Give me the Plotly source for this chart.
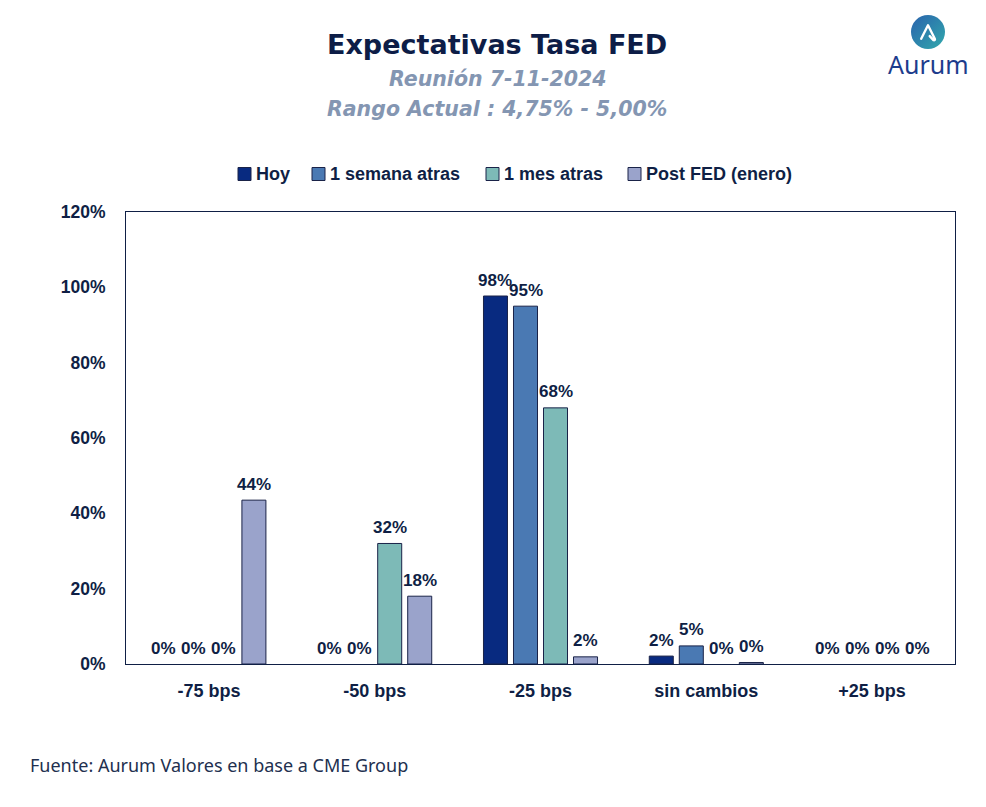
import base64
import plotly.graph_objects as go

categories = ["-75 bps", "-50 bps", "-25 bps", "sin cambios", "+25 bps"]
series_names = ["Hoy", "1 semana atras", "1 mes atras", "Post FED (enero)"]
hoy = [0.0, 0.0, 0.977, 0.021, 0.0]
semana = [0.0, 0.0, 0.950, 0.048, 0.0]
mes = [0.0, 0.32, 0.680, 0.0, 0.0]
post_fed = [0.435, 0.180, 0.019, 0.004, 0.0]
y_ticks = [0, 0.2, 0.4, 0.6, 0.8, 1.0, 1.2]

colors = ["#082a80", "#4a79b3", "#7dbab7", "#9aa3cb"]
navy = "#0f1f45"
edge = "#1a2348"

W, H = 986, 807
L, R, T, B = 126, 31, 212, 143
PW, PH = W - L - R, H - T - B
BARGAP = 0.276
SLOT = (1 - BARGAP) / 4


def px(x):
    return (x - L) / PW


def py(y):
    return (H - B - y) / PH


fig = go.Figure()
all_series = [hoy, semana, mes, post_fed]
for name, vals, col in zip(series_names, all_series, colors):
    fig.add_trace(go.Bar(
        x=categories, y=[v if v > 0 else None for v in vals], name=name,
        marker=dict(color=col, line=dict(color=edge, width=1)),
        showlegend=False,
    ))

# data labels above each bar
lab_font = dict(family="Liberation Sans", size=17, color=navy, weight="bold")
for j, vals in enumerate(all_series):
    for i, v in enumerate(vals):
        fig.add_annotation(
            x=i + (j - 1.5) * SLOT, y=v, xref="x", yref="y",
            text=f"{round(v * 100):.0f}%", showarrow=False,
            xanchor="center", yanchor="middle", yshift=16, font=lab_font,
        )

fig.update_layout(
    width=W, height=H,
    margin=dict(l=L, r=R, t=T, b=B),
    paper_bgcolor="white", plot_bgcolor="white",
    barmode="group", bargap=BARGAP, bargroupgap=0.2,
    font=dict(family="Liberation Sans", color=navy),
    showlegend=False,
    xaxis=dict(
        showline=True, mirror=True, linecolor=navy, linewidth=1,
        ticks="", showgrid=False,
        tickfont=dict(family="Liberation Sans", size=18, color=navy, weight="bold"),
        ticklabelstandoff=10,
    ),
    yaxis=dict(
        range=[0, 1.2], tickvals=y_ticks, tickformat=".0%",
        showline=True, mirror=True, linecolor=navy, linewidth=1,
        ticks="", showgrid=False, zeroline=False,
        tickfont=dict(family="Liberation Sans", size=17.5, color=navy, weight="bold"),
        ticklabelstandoff=16,
    ),
)

# manual legend
leg_sq_x = [238, 312, 486, 628]
leg_tx_x = [254, 328, 502, 644]
leg_y = 174
for name, col, sx, tx in zip(series_names, colors, leg_sq_x, leg_tx_x):
    fig.add_shape(type="rect", xref="paper", yref="paper",
                  x0=px(sx), x1=px(sx + 13), y0=py(leg_y + 6.5), y1=py(leg_y - 6.5),
                  fillcolor=col, line=dict(color=edge, width=1))
    fig.add_annotation(text=name, xref="paper", yref="paper", x=px(tx), y=py(leg_y),
                       xanchor="left", yanchor="middle", showarrow=False,
                       font=dict(family="Liberation Sans", size=18, color=navy, weight="bold"))

annotations = [
    dict(text="Expectativas Tasa FED", x=px(497), y=py(45),
         font=dict(family="DejaVu Sans", size=27, color="#0d1d47", weight="bold")),
    dict(text="<i>Reunión 7-11-2024</i>", x=px(498), y=py(79),
         font=dict(family="DejaVu Sans", size=20.5, color="#8496b2", weight="bold")),
    dict(text="<i>Rango Actual : 4,75% - 5,00%</i>", x=px(497), y=py(109),
         font=dict(family="DejaVu Sans", size=20.5, color="#8496b2", weight="bold")),
    dict(text="Aurum", x=px(928), y=py(64),
         font=dict(family="Noto Sans", size=25, color="#1d3c8c")),
]
for a in annotations:
    a.update(xref="paper", yref="paper", showarrow=False, xanchor="center", yanchor="middle")
    fig.add_annotation(**a)
fig.add_annotation(text="Fuente: Aurum Valores en base a CME Group", xref="paper", yref="paper",
                   x=px(28), y=py(765), xanchor="left", yanchor="middle", showarrow=False,
                   font=dict(family="Noto Sans", size=18, color="#22304f"))

svg = ('<svg xmlns="http://www.w3.org/2000/svg" width="100" height="100" viewBox="0 0 100 100">'
       '<defs><linearGradient id="g" x1="0" y1="0" x2="1" y2="1">'
       '<stop offset="0" stop-color="#2a62ad"/><stop offset="1" stop-color="#31a9ac"/>'
       '</linearGradient></defs><circle cx="50" cy="50" r="50" fill="url(#g)"/>'
       '<path d="M30 70 L50 30 L70 70 Q72 75 66 74 L55 62" fill="none" stroke="white" '
       'stroke-width="7" stroke-linejoin="round" stroke-linecap="round"/></svg>')
src = "data:image/svg+xml;base64," + base64.b64encode(svg.encode()).decode()
fig.add_layout_image(dict(source=src, xref="paper", yref="paper", x=px(911), y=py(15),
                          sizex=34 / PW, sizey=34 / PH, xanchor="left", yanchor="top",
                          sizing="stretch", layer="above"))

fig.write_html("out.html", config={"displayModeBar": False},
               post_script="document.body.style.margin='0';")
